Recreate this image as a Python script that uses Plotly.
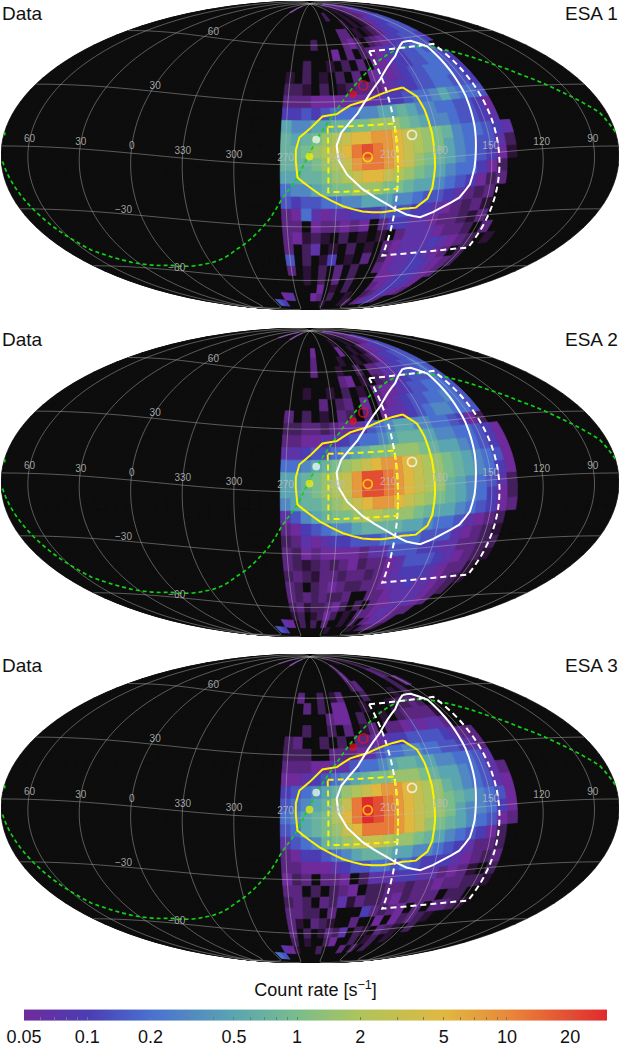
import math
import plotly.graph_objects as go

# rate for every letter used in the pixel rows below, "." is an empty pixel
LEVEL_CODES = list("123456789abcdefghijk")
LEVEL_RATES = [0.02, 0.03, 0.04, 0.05, 0.07, 0.1, 0.14, 0.2, 0.3, 0.5, 0.7, 1, 1.5, 2, 3, 5, 8, 12, 20, 30]

ROW_LATS = list(range(84, -85, -6))
FIRST_LON = 270  # lon of the first letter in a row, 6 deg steps downwards

ESA1_ROWS = [
    "............11.2233445",
    ".......2....1.12334566",
    "..........1.1.12456677",
    "........33.1.123566777",
    "...2....342.2345667776",
    "......4.3.23456677877",
    "..2..1.2.3.44566778876",
    "1.2.1.2.3.454567788876",
    "221.2.1233345667788776",
    "33344445455667889a9887",
    "6676788899aaba99887764",
    "a99aabbccdddcba9987765",
    "babcdefgghhgfedcb988765",
    "bbcdefgijihgfedca987752",
    "bbbcdefhiihgfdcba987641",
    "aabbcdefggfedcba988642",
    "899abccdddccbaa9876423",
    "76778899aaa9987765323.",
    "348545566677766543231",
    "33.433434.36655433213",
    "34121.2.1.1.35554332.3",
    "3.25.1.2.1.3455565432.1",
    "7.2.16.1.3.24556543.2",
    "3.1.2.3.2..3455665432",
    "..1.2.3.2...44566543",
    "....4.1.2...3456654",
    "...43.2..1..2356543",
    ".....1...12.34653",
    "",
]
ESA2_ROWS = [
    "............11.122334",
    ".........1...1.1233456",
    "...4.....4..1.13455667",
    "...3....1..1.124566777",
    "...3...1..2.3355667787",
    ".......34.1.2355677787",
    "..1..1.2.1.34456778887",
    "....3.23.4.34567788987",
    "3.2.1.32.3.45567899887",
    "223323445789aa99887642",
    "33445567889abbba9988764",
    "5567789abccdddcbaa98764",
    "889abcdefghhgfedcba9874",
    "aabcdefhjjihgfedcba9864",
    "aabcdefhjjihgfedba98752",
    "9abbcdefghhgfedcba98642",
    "579abccdeedddcbaa987643",
    "3467899abbbbaa98875432",
    "2354566777888877754321",
    "3243444435577766553322",
    "3212323423345777654321",
    "232133233234566654331.",
    "32.234322334556554321.",
    "32323223..3345555432..",
    "23122342.2.34455543..",
    "12.1242.1.33455433.",
    ".2.2.3..1.2.34543.",
    "......1....1.2332.",
    "",
]
ESA3_ROWS = [
    "..............1...2",
    "..........2.......2",
    "..........3.......32",
    "..........23......2.3",
    ".3..2.13...2....1.2",
    "..3.2.44..1...12232",
    ".....344.2..1.233331",
    "..2..2.3.13.33454553",
    "23..2.2.33456677776533",
    "222..33345788998877653",
    "33344557889abbaa998875",
    "4456789abccdddcbaa98753",
    "6789abdefghhgfedba98754",
    "789abdfikjihgfedcba9874",
    "89abcegikjihgfedca99864",
    "78abcdfgiiihgfdcba98743",
    "5789bcdeffeddcba987642",
    "3466789abbbaa998765332",
    "3344456778878766654323",
    "423.334.255566553431.2",
    "33.2.234.2233233433221",
    "232.3251322342333.22.",
    "3322.3...63234.3.3321",
    "31.321..3..4.42321",
    "3.2.1325.21.321.2",
    "2.1..24..2.12.1",
    "1...2...3.2.2",
    "",
    "",
]

# the few lit pixels left of the main block, near the poles
EXTRA_LONS = [294, 288, 282, 276, 300, 330]
EXTRA_LATS = [-78, -78, -72, -72, 84, 84]
ESA1_EXTRA = "76453."
ESA2_EXTRA = "765433"
ESA3_EXTRA = "875432"

# contours and curves, ecliptic lon / lat
YELLOW_LON = [193, 186, 184, 183, 183, 183, 184, 186, 192, 200, 212, 224, 236, 250, 260, 263, 264, 264, 262, 256, 248, 239, 230, 219, 207, 193]
YELLOW_LAT = [35, 30, 23, 12, 1, -4, -14, -19, -23, -23, -24, -23, -20, -14, -8, -6, 2, 7, 13, 17, 23, 24, 28, 30, 33, 35]
WHITE_LON = [169, 161, 153, 154, 155, 157, 159, 160, 162, 167, 176, 181, 188, 197, 210, 225, 234, 239, 240, 237, 226, 206, 186, 169]
WHITE_LAT = [58, 58, 54, 41, 28, 13, 1, -6, -14, -20, -24, -26, -28, -26, -20, -12, -5, 2, 9, 15, 24, 40, 51, 58]
GREEN_LON = [75, 80, 95, 110, 123, 136, 154, 174, 196, 214, 226, 239, 251, 257, 263, 272, 280, 291, 307, 336, 6, 36, 55, 64, 70, 75]
GREEN_LAT = [5, 16, 27, 36, 43, 49, 54, 55, 51, 44, 37, 26, 13, 4, -6, -16, -26, -35, -44, -54, -57, -57, -51, -38, -23, -7]

WHITE_BOX = [145.5, 204.5, -47, 55]  # lon min, lon max, lat min, lat max
YELLOW_BOX = [204.5, 245, -13, 18]

MARK_LONS = [195, 222, 219, 227, 252, 256]
MARK_LATS = [12, 3, 37.5, 33.5, 12, 4]
MARK_EDGE = ["white", "#fff200", "#e8141c", "#e8141c", "white", "#fff200"]
MARK_FILLED = [False, False, False, True, True, True]

GRID_LONS = list(range(0, 360, 30))
GRID_LATS = [-60, -30, 0, 30, 60]
LON_LABELS = [60, 30, 0, 330, 300, 270, 240, 210, 180, 150, 120, 90]
LAT_LABELS = [60, 30, -30, -60]
LAT_LABEL_LONS = [357, 359.5, 10, 2.5]
LAT_LABEL_LATS = [62.5, 32.5, -28.5, -58.5]

# colour bar
SCALE_RATES = [0.012, 0.02, 0.03, 0.04, 0.05, 0.1, 0.2, 0.5, 1, 2, 5, 10, 30]
SCALE_COLORS = ["#0d0d0d", "#2b1236", "#43205c", "#5a2680", "#6f2b9c", "#4c3cb4", "#4a70cf", "#5aa5b2",
                "#79bd8c", "#aec45c", "#e0b840", "#e9893a", "#e02a2e"]
TICK_RATES = [0.05, 0.1, 0.2, 0.5, 1, 2, 5, 10, 20]
MINOR_RATES = [0.06, 0.07, 0.08, 0.09, 0.3, 0.4, 0.6, 0.7, 0.8, 0.9, 3, 4, 6, 7, 8, 9, 30]

CENTER_LON = 255.7
CENTER_LAT = 4.5
BLACK = "#0d0d0d"
FONT = "Liberation Sans"
PAGE_H = 1046.0
MAP_SPANS = [(1, 310), (328, 637), (654, 963)]
TITLE_YS = [14, 339, 665]


def wrap(lon):
    # longitudes grow to the left on this map, geo grows to the right
    return (-lon + 180) % 360 - 180


def cell_color(rate):
    pos = math.log10(rate)
    stops = [math.log10(r) for r in SCALE_RATES]
    if pos <= stops[0]:
        return SCALE_COLORS[0]
    for i in range(1, len(stops)):
        if pos <= stops[i]:
            f = (pos - stops[i - 1]) / (stops[i] - stops[i - 1])
            a = SCALE_COLORS[i - 1]
            b = SCALE_COLORS[i]
            rgb = [round(int(a[k:k + 2], 16) * (1 - f) + int(b[k:k + 2], 16) * f) for k in (1, 3, 5)]
            return "rgb(%d,%d,%d)" % tuple(rgb)
    return SCALE_COLORS[-1]


def bar_scale():
    rates = [r for r in SCALE_RATES if r >= 0.05]
    span = math.log10(30) - math.log10(0.05)
    return [[(math.log10(r) - math.log10(0.05)) / span, SCALE_COLORS[SCALE_RATES.index(r)]] for r in rates]


def cell_trace(cells, color, geo_name):
    # one trace per colour, every pixel a ring of its own
    lons = []
    lats = []
    for lon, lat in cells:
        w = wrap(lon) - 3
        e = wrap(lon) + 3
        s = max(lat - 3, -90)
        n = min(lat + 3, 90)
        lons += [w, w, e, e, w, None]
        lats += [s, n, n, s, s, None]
    return go.Scattergeo(lon=lons, lat=lats, mode="lines", fill="toself", fillcolor=color,
                         line=dict(color=color, width=0.7), hoverinfo="skip", showlegend=False, geo=geo_name)


def line_trace(lons, lats, color, width, geo_name, dash="solid"):
    return go.Scattergeo(lon=[None if v is None else wrap(v) for v in lons], lat=lats, mode="lines",
                         line=dict(color=color, width=width, dash=dash), hoverinfo="skip",
                         showlegend=False, geo=geo_name)


def box_lines(box):
    # lon min, lon max, lat min, lat max drawn along parallels and meridians
    lo, hi, s, n = box
    top = [hi - (hi - lo) * i / 12 for i in range(13)]
    lons = top + [lo] * 13 + top[::-1] + [hi] * 13
    lats = [n] * 13 + [n - (n - s) * i / 12 for i in range(13)] + [s] * 13 + [s + (n - s) * i / 12 for i in range(13)]
    return lons, lats


fig = go.Figure()

all_cells = [(lon, lat) for lon in range(0, 360, 6) for lat in ROW_LATS + [90, -90]]
bar = dict(
    orientation="h", x=0.509, xanchor="center", y=1 - 987 / PAGE_H, yanchor="top", yref="paper",
    len=583 / 620, lenmode="fraction", thickness=11, outlinewidth=0, xpad=0, ypad=0,
    title=dict(text="Count rate [s<sup>\u22121</sup>]", side="top", font=dict(size=18, color="#111", family=FONT)),
    tickvals=[math.log10(v) for v in TICK_RATES + MINOR_RATES],
    ticktext=[str(v) for v in TICK_RATES] + [""] * len(MINOR_RATES),
    ticks="inside", ticklen=3, tickwidth=0.6, tickcolor="#777",
    tickfont=dict(size=18, color="#111", family=FONT),
)

grid_lons = []
grid_lats = []
for lon in GRID_LONS:
    grid_lons += [lon] * 19 + [None]
    grid_lats += [-90 + 10 * i for i in range(19)] + [None]
for lat in GRID_LATS:
    grid_lons += [i * 5 for i in range(73)] + [None]
    grid_lats += [lat] * 73 + [None]

maps = [("geo", ESA1_ROWS, ESA1_EXTRA), ("geo2", ESA2_ROWS, ESA2_EXTRA), ("geo3", ESA3_ROWS, ESA3_EXTRA)]
for n, (geo_name, rows, extra) in enumerate(maps):
    by_code = {code: [] for code in LEVEL_CODES}
    for r, row in enumerate(rows):
        for c, ch in enumerate(row):
            if ch != ".":
                by_code[ch].append((FIRST_LON - 6 * c, ROW_LATS[r]))
    for lon, lat, ch in zip(EXTRA_LONS, EXTRA_LATS, extra):
        if ch != ".":
            by_code[ch].append((lon, lat))

    if n == 0:
        # carries the colour bar, its points sit under the black pixels
        lit = [(p, LEVEL_RATES[LEVEL_CODES.index(k)]) for k in LEVEL_CODES for p in by_code[k]
               if LEVEL_RATES[LEVEL_CODES.index(k)] >= 0.05]
        fig.add_trace(go.Scattergeo(
            lon=[wrap(p[0][0]) for p in lit], lat=[p[0][1] for p in lit], mode="markers", hoverinfo="skip",
            showlegend=False, geo=geo_name,
            marker=dict(size=1, color=[math.log10(p[1]) for p in lit], cmin=math.log10(0.05), cmax=math.log10(30),
                        colorscale=bar_scale(), showscale=True, colorbar=bar)))

    fig.add_trace(cell_trace(all_cells, BLACK, geo_name))
    for code, rate in zip(LEVEL_CODES, LEVEL_RATES):
        if by_code[code]:
            fig.add_trace(cell_trace(by_code[code], cell_color(rate), geo_name))

    fig.add_trace(line_trace(grid_lons, grid_lats, "rgba(190,190,190,0.55)", 0.8, geo_name))
    fig.add_trace(line_trace(GREEN_LON, GREEN_LAT, "#12d016", 1.7, geo_name, "4px,3px"))
    lons, lats = box_lines(WHITE_BOX)
    fig.add_trace(line_trace(lons, lats, "white", 2, geo_name, "6px,4px"))
    lons, lats = box_lines(YELLOW_BOX)
    fig.add_trace(line_trace(lons, lats, "#fff200", 2, geo_name, "6px,4px"))
    fig.add_trace(line_trace(YELLOW_LON, YELLOW_LAT, "#fff200", 2, geo_name))
    fig.add_trace(line_trace(WHITE_LON, WHITE_LAT, "white", 2, geo_name))

    fig.add_trace(go.Scattergeo(
        lon=[wrap(v) for v in MARK_LONS], lat=MARK_LATS, mode="markers", hoverinfo="skip", showlegend=False,
        marker=dict(size=[9 if not f else 6 for f in MARK_FILLED], line=dict(color=MARK_EDGE, width=1.8),
                    color=[e if f else "rgba(0,0,0,0)" for e, f in zip(MARK_EDGE, MARK_FILLED)]),
        geo=geo_name))
    fig.add_trace(go.Scattergeo(
        lon=[wrap(v) for v in LON_LABELS] + [wrap(v) for v in LAT_LABEL_LONS],
        lat=[3] * len(LON_LABELS) + LAT_LABEL_LATS,
        text=[str(v).replace("-", "\u2212") for v in LON_LABELS + LAT_LABELS],
        mode="text", textfont=dict(size=10, color="rgba(190,190,190,0.85)", family=FONT),
        hoverinfo="skip", showlegend=False, geo=geo_name))

geo_base = dict(
    projection=dict(type="mollweide", rotation=dict(lon=wrap(CENTER_LON), lat=CENTER_LAT)),
    showland=False, showocean=False, showlakes=False, showrivers=False, showcountries=False,
    showcoastlines=False, showframe=False, bgcolor="rgba(0,0,0,0)",
    lonaxis=dict(showgrid=False), lataxis=dict(showgrid=False),
)
geo_layouts = {}
for name, span in zip(["geo", "geo2", "geo3"], MAP_SPANS):
    geo_layouts[name] = dict(geo_base, domain=dict(x=[0, 1], y=[1 - span[1] / PAGE_H, 1 - span[0] / PAGE_H]))

notes = []
for n, title_y in enumerate(TITLE_YS):
    ypos = 1 - title_y / PAGE_H
    notes.append(dict(text="Data", x=0.0, y=ypos, xref="paper", yref="paper", xanchor="left", yanchor="middle",
                      showarrow=False, font=dict(size=19, color="#111", family=FONT)))
    notes.append(dict(text="ESA %d" % (n + 1), x=1.0, y=ypos, xref="paper", yref="paper", xanchor="right",
                      yanchor="middle", showarrow=False, font=dict(size=19, color="#111", family=FONT)))

fig.update_layout(width=620, height=1046, margin=dict(l=0, r=0, t=0, b=0, autoexpand=False), paper_bgcolor="white",
                  showlegend=False, annotations=notes, **geo_layouts)

fig.write_html("out.html", config={"displayModeBar": False}, post_script="document.body.style.margin='0';")
